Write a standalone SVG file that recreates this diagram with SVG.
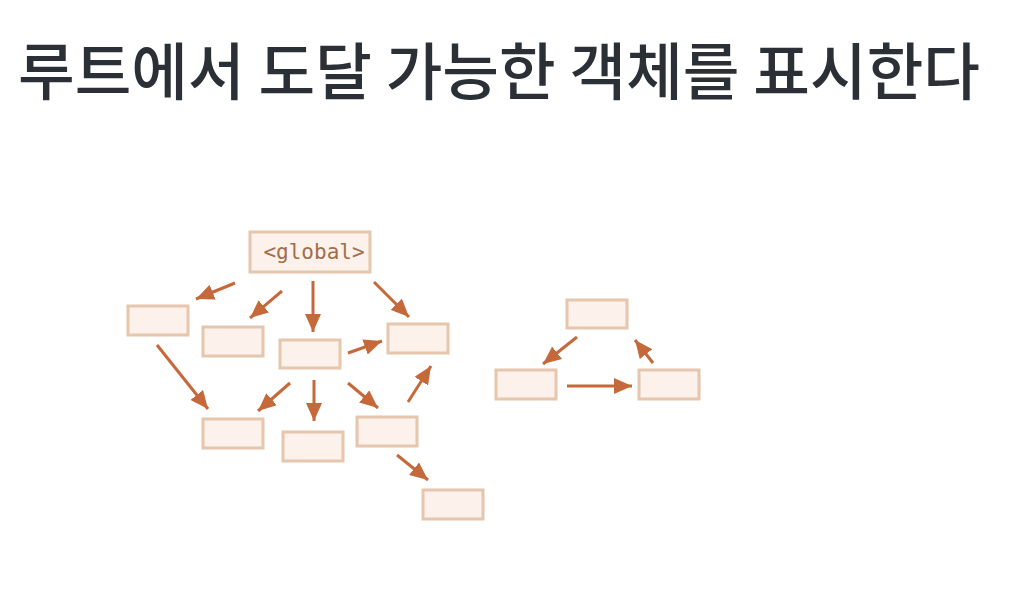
<svg xmlns="http://www.w3.org/2000/svg" width="1022" height="598" viewBox="0 0 1022 598">
<style>
.title{font-family:"Noto Sans CJK KR","Noto Sans",sans-serif;font-weight:500;font-size:62px;fill:#2b2f36}
.box{fill:#fcf1eb;stroke:#e6c6ad;stroke-width:3}
.lbl{font-family:"DejaVu Sans Mono","Liberation Mono",monospace;font-size:21px;fill:#a06e4c}
.arr{stroke:#c5693a;stroke-width:3;fill:none;marker-end:url(#ah)}
</style>
<defs>
<marker id="ah" markerUnits="userSpaceOnUse" markerWidth="19" markerHeight="16" refX="18" refY="8" orient="auto">
<path d="M0,0 L18,8 L0,16 Z" fill="#c5693a"/>
</marker>
</defs>
<rect width="1022" height="598" fill="#ffffff"/>
<text class="title" x="18" y="95" textLength="962" lengthAdjust="spacingAndGlyphs">루트에서 도달 가능한 객체를 표시한다</text>
<g id="global"><rect class="box" x="250" y="232" width="120" height="40"/><text class="lbl" x="314" y="259" text-anchor="middle">&lt;global&gt;</text></g>
<g id="nA"><rect class="box" x="128" y="306" width="60" height="29"/></g>
<g id="nB"><rect class="box" x="203" y="327" width="60" height="29"/></g>
<g id="nC"><rect class="box" x="280" y="340" width="60" height="28"/></g>
<g id="nD"><rect class="box" x="388" y="324" width="60" height="29"/></g>
<g id="nE"><rect class="box" x="203" y="419" width="60" height="29"/></g>
<g id="nF"><rect class="box" x="283" y="432" width="60" height="29"/></g>
<g id="nG"><rect class="box" x="357" y="417" width="60" height="29"/></g>
<g id="nH"><rect class="box" x="423" y="490" width="60" height="29"/></g>
<g id="nI"><rect class="box" x="567" y="300" width="60" height="28"/></g>
<g id="nJ"><rect class="box" x="496" y="370" width="60" height="29"/></g>
<g id="nK"><rect class="box" x="639" y="370" width="60" height="29"/></g>
<g id="connectors">
<line class="arr" x1="235" y1="283" x2="196" y2="299"/>
<line class="arr" x1="282" y1="291" x2="250" y2="318"/>
<line class="arr" x1="313" y1="281" x2="313" y2="332"/>
<line class="arr" x1="374" y1="282" x2="409" y2="317"/>
<line class="arr" x1="348" y1="353" x2="382" y2="341"/>
<line class="arr" x1="157" y1="345" x2="208" y2="409"/>
<line class="arr" x1="290" y1="383" x2="258" y2="411"/>
<line class="arr" x1="314" y1="380" x2="314" y2="421"/>
<line class="arr" x1="348" y1="383" x2="378" y2="408"/>
<line class="arr" x1="408" y1="402" x2="431" y2="366"/>
<line class="arr" x1="397" y1="455" x2="428" y2="480"/>
<line class="arr" x1="577" y1="337" x2="543" y2="364"/>
<line class="arr" x1="567" y1="386" x2="632" y2="386"/>
<line class="arr" x1="653" y1="363" x2="635" y2="340"/>
</g>
</svg>
